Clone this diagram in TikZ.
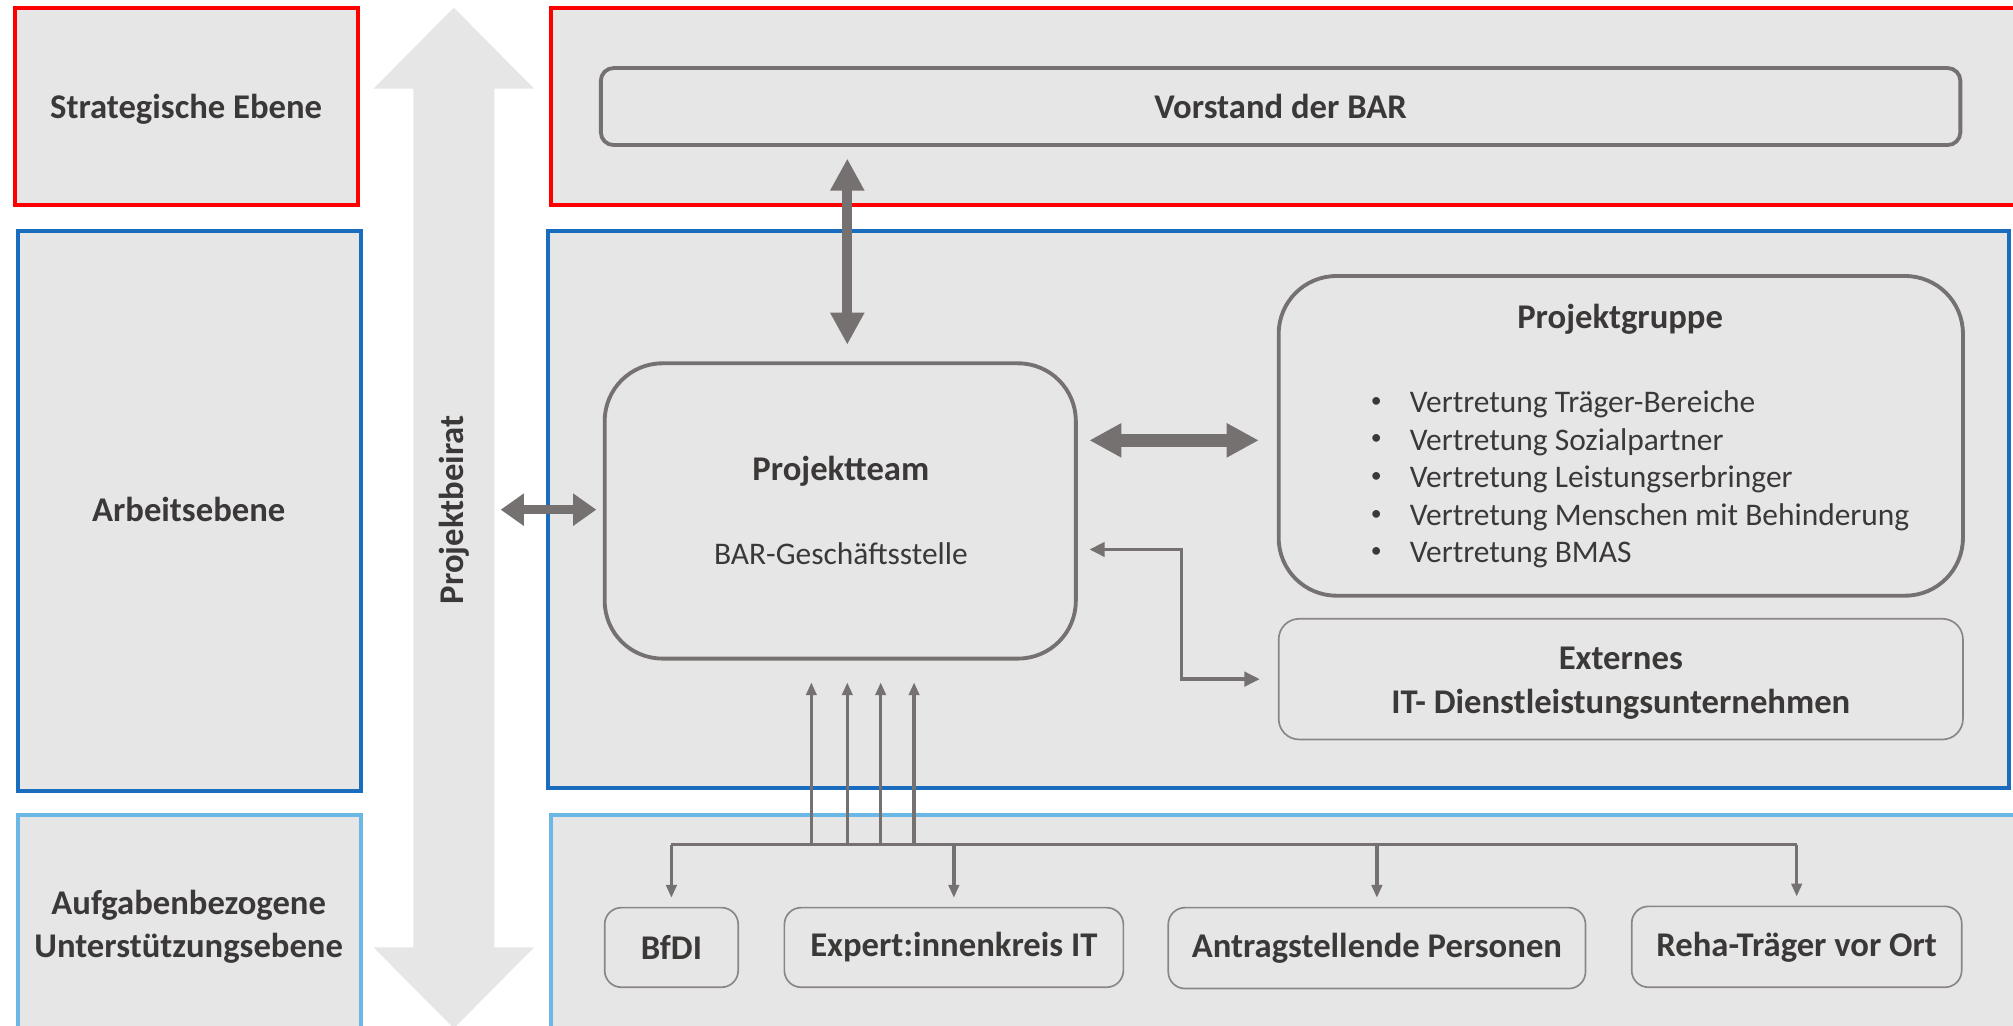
\documentclass[tikz,border=0pt]{standalone}
\usepackage{fontspec}
\setmainfont{Carlito}
\usepackage{tikz}
\usetikzlibrary{arrows.meta}
\definecolor{boxfill}{HTML}{E7E6E6}
\definecolor{linegray}{HTML}{767171}
\definecolor{txtgray}{HTML}{3B3838}
\definecolor{lvlred}{HTML}{FF0000}
\definecolor{lvlblue}{HTML}{1A6DBE}
\definecolor{lvllight}{HTML}{6BB7E6}

\begin{document}
\begin{tikzpicture}[x=1pt,y=-1pt,
  lvl/.style={draw=#1,line width=3pt,fill=boxfill},
  headtext/.style={font=\fontsize{27}{34}\selectfont\bfseries,text=txtgray,align=center},
  bodytext/.style={font=\fontsize{24.5}{30}\selectfont,text=txtgray},
  bigbox/.style={draw=linegray,line width=3pt,fill=boxfill,rounded corners=45pt,inner sep=0pt},
  smallbox/.style={draw=linegray!85,line width=1.3pt,fill=boxfill,rounded corners=13pt,inner sep=0pt},
  fatarrow/.style={draw=linegray,line width=#1,
    {Triangle[length=25pt,width=25pt]}-{Triangle[length=25pt,width=25pt]}},
  thinarrow/.style={draw=linegray,line width=2.7pt,-{Triangle[length=10pt,width=8pt]}}]
\useasboundingbox (0,0) rectangle (1568,799);

% levels
\draw[lvl=lvlred]   (12,6)    rectangle (279,160);
\draw[lvl=lvlblue]  (14,180)  rectangle (281,616);
\draw[lvl=lvllight] (14,635)  rectangle (281,840);
\draw[lvl=lvlred]   (429,6)   rectangle (1572,160);
\draw[lvl=lvlblue]  (427,180) rectangle (1565,614);
\draw[lvl=lvllight] (429,635) rectangle (1572,840);

\node[headtext] (strat) at (145,85)  {Strategische Ebene};
\node[headtext] (arb)   at (147,397) {Arbeitsebene};
\node[headtext] (aufg)  at (147,722) {Aufgabenbezogene\\Unterstützungsebene};

% Projektbeirat
\fill[boxfill] (353.5,6) -- (416,69) -- (385,69) -- (385,738) -- (416,738)
  -- (353.5,801) -- (291,738) -- (322,738) -- (322,69) -- (291,69) -- cycle;
\node[headtext,rotate=90] (beirat) at (354,397) {Projektbeirat};
\coordinate (shaft) at (385,397);

% boxes
\node[bigbox,rounded corners=10pt,minimum width=1059,minimum height=60,headtext]
  (vor) at (997.5,83) {Vorstand der BAR};
\node[bigbox,minimum width=367,minimum height=230] (pt) at (654.5,398) {};
\node[headtext] (ptt) at (655,367) {Projektteam};
\node[bodytext] (pts) at (655,431) {BAR-Geschäftsstelle};

\node[bigbox,minimum width=533,minimum height=249] (pg) at (1262.5,339.5) {};
\node[headtext] (pgt) at (1262,249) {Projektgruppe};
\foreach \t [count=\i] in {Vertretung Träger-Bereiche,Vertretung Sozialpartner,
    Vertretung Leistungserbringer,Vertretung Menschen mit Behinderung,Vertretung BMAS} {
  \node[bodytext,anchor=base west,inner sep=0pt] (pg\i) at (1098,292+29.3*\i) {\t};
  \node[bodytext,font=\fontsize{17}{20}\selectfont,inner sep=0pt] (pb\i) at (1072,284+29.3*\i) {\textbullet};
}

\node[smallbox,rounded corners=16pt,minimum width=533,minimum height=94] (ext) at (1262.5,529) {};
\node[headtext] (extt) at (1262.5,532) {Externes\\IT- Dienstleistungsunternehmen};

\node[smallbox,minimum width=104,minimum height=62,headtext] (bfdi) at (523,738)    {BfDI};
\node[smallbox,minimum width=264,minimum height=62,headtext] (exp)  at (743,738)    {Expert:innenkreis IT};
\node[smallbox,minimum width=325,minimum height=63,headtext] (antr) at (1072.5,738.5) {Antragstellende Personen};
\node[smallbox,minimum width=257,minimum height=63,headtext] (reha) at (1399.5,737.5) {Reha-Träger vor Ort};

% connections
\draw[fatarrow=8pt,shorten <=9pt,shorten >=13pt]
  ([xshift=5.5pt]pt.north |- vor.south) -- ([xshift=5.5pt]pt.north);
\draw[fatarrow=10pt,shorten <=9pt,shorten >=14pt]
  ([yshift=-3.5pt]pt.east |- pg.west) -- ([yshift=-3.5pt]pg.west);
\draw[fatarrow=7pt,{Triangle[length=18pt,width=24pt]}-{Triangle[length=18pt,width=24pt]},
  shorten <=5pt,shorten >=5pt] (shaft) -- (shaft -| pt.west);
\draw[thinarrow,line width=3pt,{Triangle[length=12pt,width=11pt]}-{Triangle[length=12pt,width=11pt]},
  shorten <=9pt,shorten >=14pt]
  ([yshift=-30pt]pt.east) -| ([xshift=-75pt]ext.west) -- (ext.west);

\coordinate (bus) at (660,658);
\draw[linegray,line width=2.7pt] (bus -| bfdi.north) -- (bus -| reha.north);
\foreach \n in {bfdi,exp,antr,reha}
  \draw[thinarrow,shorten >=7pt] (bus -| \n.north) -- (\n.north);
\foreach \d in {-28,0,26,52}
  \draw[thinarrow,shorten >=17pt] ([xshift=\d pt]bus) -- ([xshift=\d pt]bus |- pt.south);
\end{tikzpicture}
\end{document}
